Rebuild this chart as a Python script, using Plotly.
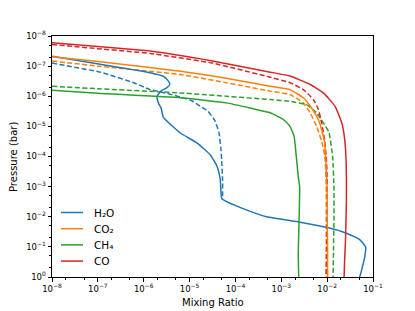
import numpy as np
import plotly.graph_objects as go

# values: log10(mixing ratio), log10(pressure / bar)
h2o_solid_lx = [-8, -6.95, -5.86, -5.57, -5.47, -5.43, -5.5, -5.62, -5.71, -5.68, -5.62, -5.57, -5.2, -4.84, -4.55, -4.40, -4.33, -4.30, -4.19, -3.75, -3.32, -2.59, -1.99, -1.58, -1.29, -1.16, -1.18, -1.25, -1.29]
h2o_solid_lp = [-7.33, -7.06, -6.78, -6.66, -6.52, -6.39, -6.28, -6.18, -6.0, -5.78, -5.6, -5.3, -4.78, -4.45, -4.06, -3.67, -3.22, -2.61, -2.50, -2.22, -2.0, -1.82, -1.64, -1.45, -1.24, -1.0, -0.67, -0.22, 0]
h2o_dash_lx = [-8, -6.95, -6.22, -5.86, -5.5, -5.2, -4.95, -4.77, -4.6, -4.45, -4.36, -4.32, -4.30, -4.28, -4.28]
h2o_dash_lp = [-7.10, -6.80, -6.45, -6.22, -6.1, -5.97, -5.85, -5.67, -5.5, -5.2, -4.8, -4.3, -3.89, -3.22, -2.62]

co2_solid_lx = [-8, -7, -5.2, -4.2, -3.24, -2.81, -2.52, -2.34, -2.19, -2.12, -2.06, -2.03, -2.0, -2.0, -1.99, -1.99]
co2_solid_lp = [-7.31, -7.15, -6.83, -6.6, -6.33, -6.22, -5.95, -5.61, -5.22, -4.89, -4.5, -3.89, -2.89, -2.0, -1.0, 0]
co2_dash_lx = [-8, -7, -5.2, -4.2, -3.24, -2.81, -2.52, -2.37, -2.23, -2.12, -2.05, -2.02, -2.02, -2.02]
co2_dash_lp = [-7.17, -7.0, -6.72, -6.45, -6.17, -6.06, -5.78, -5.45, -5.0, -4.5, -4.0, -3.0, -2.0, 0]

ch4_solid_lx = [-8, -7, -5.2, -4.2, -3.68, -3.24, -2.95, -2.81, -2.72, -2.68, -2.63, -2.60, -2.61, -2.63, -2.62]
ch4_solid_lp = [-6.2, -6.1, -5.95, -5.78, -5.61, -5.45, -5.22, -5.0, -4.67, -4.11, -3.33, -3.0, -2.0, -0.8, 0]
ch4_dash_lx = [-8, -7, -5.2, -4.2, -3.24, -2.81, -2.45, -2.23, -2.08, -1.96, -1.88, -1.85, -1.85, -1.86, -1.87]
ch4_dash_lp = [-6.33, -6.25, -6.11, -6.0, -5.89, -5.83, -5.72, -5.45, -5.11, -4.8, -4.0, -2.89, -2.0, -1.0, 0]

co_solid_lx = [-8, -7, -5.86, -4.5, -3.24, -2.81, -2.37, -2.08, -1.83, -1.68, -1.62, -1.59, -1.58, -1.58, -1.59, -1.60, -1.62, -1.63]
co_solid_lp = [-7.78, -7.65, -7.50, -7.17, -6.80, -6.67, -6.39, -6.11, -5.67, -5.11, -4.6, -4.0, -3.3, -2.5, -1.8, -1.2, -0.5, 0]
co_dash_lx = [-8, -7, -5.86, -4.5, -3.24, -2.81, -2.52, -2.30, -2.19, -2.12, -2.06, -2.02, -2.0, -2.0, -2.01, -2.02]
co_dash_lp = [-7.72, -7.58, -7.42, -7.1, -6.63, -6.45, -6.22, -5.89, -5.56, -5.11, -4.6, -4.0, -3.3, -2.0, -1.0, 0]

species = ["H₂O", "CO₂", "CH₄", "CO"]
colors = ["#1f77b4", "#ff7f0e", "#2ca02c", "#d62728"]
solid = [(h2o_solid_lx, h2o_solid_lp), (co2_solid_lx, co2_solid_lp), (ch4_solid_lx, ch4_solid_lp), (co_solid_lx, co_solid_lp)]
dashed = [(h2o_dash_lx, h2o_dash_lp), (co2_dash_lx, co2_dash_lp), (ch4_dash_lx, ch4_dash_lp), (co_dash_lx, co_dash_lp)]

x_exps = [-8, -7, -6, -5, -4, -3, -2, -1]
y_exps = [-8, -7, -6, -5, -4, -3, -2, -1, 0]
x_ticktext = ["10<sup>−%d</sup>" % -e for e in x_exps]
y_ticktext = ["10<sup>%s</sup>" % ("−%d" % -e if e < 0 else "0") for e in y_exps]

fig = go.Figure()
for name, c, (lx, lp) in zip(species, colors, dashed):
    fig.add_trace(go.Scatter(x=10 ** np.array(lx, dtype=float), y=10 ** np.array(lp, dtype=float), mode="lines",
                             line=dict(color=c, width=1.5, dash="5px,2.5px", shape="spline", smoothing=0.4),
                             showlegend=False))
for name, c, (lx, lp) in zip(species, colors, solid):
    fig.add_trace(go.Scatter(x=10 ** np.array(lx, dtype=float), y=10 ** np.array(lp, dtype=float), mode="lines", name=name,
                             line=dict(color=c, width=1.5, shape="spline", smoothing=0.4), showlegend=False))

# legend drawn by hand (matplotlib-like compact spacing)
leg_y = [0.2676, 0.2004, 0.1332, 0.066]
for name, c, yy in zip(species, colors, leg_y):
    fig.add_shape(type="line", xref="paper", yref="paper", x0=0.028, x1=0.0966, y0=yy, y1=yy,
                  line=dict(color=c, width=1.5))
    fig.add_annotation(xref="paper", yref="paper", x=0.1246, y=yy, text=name, showarrow=False,
                       xanchor="left", yanchor="middle",
                       font=dict(family="DejaVu Sans", size=10.5, color="black"))

# axis titles as annotations (keeps the plot area fixed)
fig.add_annotation(xref="paper", yref="paper", x=-0.12, y=0.5, text="Pressure (bar)", showarrow=False,
                   textangle=-90, xanchor="center", yanchor="middle",
                   font=dict(family="DejaVu Sans", size=10, color="black"))
fig.add_annotation(xref="paper", yref="paper", x=0.5, y=-0.104, text="Mixing Ratio", showarrow=False,
                   xanchor="center", yanchor="middle",
                   font=dict(family="DejaVu Sans", size=10, color="black"))

axis_common = dict(type="log", showgrid=False, zeroline=False, showline=True, linecolor="black",
                   linewidth=1, mirror=True, ticks="outside", ticklen=3.5, tickwidth=0.8,
                   tickcolor="black", tickmode="array", automargin=False,
                   tickfont=dict(family="DejaVu Sans", size=8.5, color="black"),
                   minor=dict(ticks="outside", ticklen=2, tickwidth=0.6, tickcolor="black"))

fig.update_xaxes(**axis_common, range=[-8, -1],
                 tickvals=[10.0 ** e for e in x_exps], ticktext=x_ticktext)
fig.update_yaxes(**axis_common, range=[0, -8],
                 tickvals=[10.0 ** e for e in y_exps], ticktext=y_ticktext)

# page body has an 8px default margin, so the figure is sized/offset to compensate
fig.update_layout(width=407, height=303, margin=dict(l=44, r=42, t=28, b=34),
                  paper_bgcolor="white", plot_bgcolor="white", showlegend=False,
                  font=dict(family="DejaVu Sans", color="black"))

fig.write_html("out.html")
